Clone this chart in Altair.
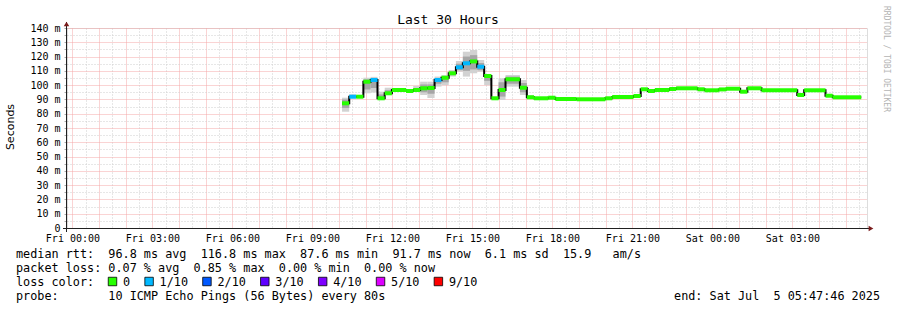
import altair as alt
import pandas as pd

# ---------------- data ----------------
# segment boundaries, hours since Fri 00:00
edges = [10.11, 10.38, 10.64, 10.91, 11.18, 11.44, 11.71, 11.98, 12.51, 12.78,
         13.04, 13.31, 13.58, 13.84, 14.11, 14.38, 14.64, 14.91, 15.18, 15.44,
         15.71, 15.98, 16.24, 16.78, 17.04, 17.31, 17.84, 18.11, 18.91, 19.98,
         20.24, 21.04, 21.31, 21.58, 21.84, 22.38, 22.64, 23.44, 23.71, 24.24,
         24.51, 25.04, 25.31, 25.84, 27.18, 27.44, 28.24, 28.51, 29.58]
# median rtt (ms) per segment
median = [87.3, 91.9, 91.9, 102.4, 103.6, 90.8, 94.3, 96.6, 95.9, 96.6,
          97.8, 98.0, 103.6, 105.2, 108.3, 112.5, 115.3, 116.6, 112.9, 106.4,
          90.8, 96.6, 104.1, 98.2, 91.5, 90.8, 91.2, 90.3, 90.1, 90.8,
          91.7, 92.4, 97.1, 95.9, 96.6, 97.3, 97.8, 97.1, 96.4, 97.0,
          97.5, 95.4, 97.8, 96.4, 93.1, 96.4, 92.6, 91.5]
# packet loss class per segment
loss = ["0", "1/10", "0", "0", "1/10", "0", "0", "0", "0", "0",
        "0", "0", "1/10", "0", "0", "1/10", "1/10", "0", "1/10", "0",
        "0", "0", "0", "0", "0", "0", "0", "0", "0", "0",
        "0", "0", "0", "0", "0", "0", "0", "0", "0", "0",
        "0", "0", "0", "0", "0", "0", "0", "0"]
# smoke (spread of the pings) for the first 25 segments
smoke_out_lo = [81.4, 90.8, 91.0, 94.3, 94.8, 89.6, 93.1, 96.0, 95.2, 95.2,
                93.1, 91.0, 99.0, 100.0, 106.0, 109.4, 106.0, 108.3, 109.4, 100.0,
                90.3, 89.6, 99.0, 93.1, 90.5]
smoke_out_hi = [91.2, 93.6, 93.0, 105.2, 105.8, 95.4, 98.2, 97.2, 96.8, 99.4,
                102.4, 102.4, 106.0, 107.0, 110.6, 116.9, 123.4, 124.6, 117.6, 107.5,
                91.5, 104.8, 107.1, 103.6, 93.0]
smoke_in_lo = [84.0, 91.0, 91.5, 97.0, 98.0, 90.0, 93.5, 96.2, 95.4, 95.8,
               95.0, 94.0, 101.0, 102.0, 107.0, 110.5, 110.0, 111.0, 110.5, 103.0,
               90.5, 92.0, 101.0, 95.0, 91.0]
smoke_in_hi = [90.0, 93.0, 92.5, 104.0, 105.0, 93.5, 96.5, 97.0, 96.6, 98.0,
               100.5, 100.5, 105.0, 106.0, 109.5, 115.0, 120.0, 121.0, 115.5, 107.0,
               91.2, 102.0, 106.0, 101.5, 92.5]

loss_labels = ["0", "1/10", "2/10", "3/10", "4/10", "5/10", "9/10"]
loss_colors = ["#26ff00", "#00b8ff", "#0059ff", "#5e00ff", "#7e00ff", "#dd00ff", "#ff0000"]

x_labels = ["Fri 00:00", "Fri 03:00", "Fri 06:00", "Fri 09:00", "Fri 12:00",
            "Fri 15:00", "Fri 18:00", "Fri 21:00", "Sat 00:00", "Sat 03:00"]
x_start, x_end = -0.2039, 29.7961

title_text = "Last 30 Hours"
y_title = "Seconds"
legend_rows = [
    "median rtt:  96.8 ms avg  116.8 ms max  87.6 ms min  91.7 ms now  6.1 ms sd  15.9   am/s",
    "packet loss: 0.07 % avg  0.85 % max  0.00 % min  0.00 % now",
    "loss color:",
    "probe:       10 ICMP Echo Pings (56 Bytes) every 80s",
]
end_text = "end: Sat Jul  5 05:47:46 2025"
watermark = "RRDTOOL / TOBI OETIKER"

NB = "\u00a0"


def keep_spaces(s):
    return s.replace(" ", NB)


# ---------------- tables ----------------
seg = pd.DataFrame({"start": edges[:-1], "end": edges[1:], "median": median, "loss": loss})
ns = len(smoke_out_lo)
smoke = pd.DataFrame({"start": edges[:ns], "end": edges[1:ns + 1],
                      "olo": smoke_out_lo, "ohi": smoke_out_hi,
                      "ilo": smoke_in_lo, "ihi": smoke_in_hi})
step = pd.DataFrame({"t": edges, "v": median + [median[-1]]})

MONO = "DejaVu Sans Mono"
MAJOR = "#f5a8a8"
MINOR = "#cfcfcf"
LEG_FS = 11.8

lab_arr = "[" + ",".join("'" + s + "'" for s in x_labels) + "]"
x_axis = alt.Axis(
    values=[i * 0.5 for i in range(60)],
    labelExpr=f"datum.value % 3 == 0 ? {lab_arr}[datum.value / 3] : ''",
    grid=True,
    gridColor={"condition": {"test": "datum.value % 1 == 0", "value": MAJOR}, "value": MINOR},
    gridDash={"condition": {"test": "datum.value % 1 == 0", "value": [1, 1]}, "value": [1, 2]},
    gridWidth=1,
    ticks=False, domain=False, labelFont=MONO, labelFontSize=10, labelColor="black",
    labelPadding=5, labelOverlap=False, labelFlush=False, title=None,
)
y_axis = alt.Axis(
    values=list(range(0, 145, 5)),
    labelExpr="datum.value % 10 != 0 ? '' : (datum.value == 0 ? '0' : datum.value + ' m')",
    grid=True,
    gridColor={"condition": {"test": "datum.value % 10 == 0", "value": MAJOR}, "value": MINOR},
    gridDash={"condition": {"test": "datum.value % 10 == 0", "value": [1, 1]}, "value": [1, 2]},
    gridWidth=1,
    ticks=True, tickSize=3, tickColor="#aaaaaa", domain=False,
    labelFont=MONO, labelFontSize=10, labelColor="black", labelPadding=4,
    labelOverlap=False, labelFlush=False, title=None,
)
xs = alt.Scale(domain=[x_start, x_end], nice=False, zero=False)
ys = alt.Scale(domain=[0, 140], nice=False, zero=False)

outer = alt.Chart(smoke).mark_rect(color="#d2d2d2").encode(
    x=alt.X("start:Q", scale=xs, axis=x_axis), x2="end:Q",
    y=alt.Y("olo:Q", scale=ys, axis=y_axis), y2="ohi:Q")
inner = alt.Chart(smoke).mark_rect(color="#a6a6a6").encode(
    x=alt.X("start:Q", scale=xs, axis=x_axis), x2="end:Q",
    y=alt.Y("ilo:Q", scale=ys, axis=y_axis), y2="ihi:Q")
black = alt.Chart(step).mark_line(interpolate="step-after", color="black", strokeWidth=2).encode(
    x=alt.X("t:Q", scale=xs, axis=x_axis), y=alt.Y("v:Q", scale=ys, axis=y_axis))
colored = alt.Chart(seg).mark_rule(strokeWidth=4).encode(
    x=alt.X("start:Q", scale=xs, axis=x_axis), x2="end:Q",
    y=alt.Y("median:Q", scale=ys, axis=y_axis),
    color=alt.Color("loss:N", scale=alt.Scale(domain=loss_labels, range=loss_colors), legend=None))

one = pd.DataFrame({"a": [0]})
yline = alt.Chart(one).mark_rule(color="#202020", strokeWidth=1).encode(
    x=alt.value(-0.5), y=alt.value(-6), y2=alt.value(204))
xline = alt.Chart(one).mark_rule(color="#202020", strokeWidth=1).encode(
    x=alt.value(-4), x2=alt.value(803), y=alt.value(200.5))
arrow_up = alt.Chart(one).mark_point(shape="triangle-up", filled=True, color="#7a1c1c",
                                     size=30, opacity=1).encode(
    x=alt.value(-0.5), y=alt.value(-4))
arrow_right = alt.Chart(one).mark_point(shape="triangle-right", filled=True, color="#7a1c1c",
                                        size=30, opacity=1).encode(
    x=alt.value(804), y=alt.value(200.5))

texts = []
texts.append(alt.Chart(pd.DataFrame({"t": [title_text]})).mark_text(
    font=MONO, fontSize=13, align="center", baseline="alphabetic", color="black").encode(
    text="t:N", x=alt.value(381), y=alt.value(-4)))
texts.append(alt.Chart(pd.DataFrame({"t": [y_title]})).mark_text(
    font="DejaVu Sans", fontSize=11, align="center", baseline="middle", angle=270,
    color="black").encode(text="t:N", x=alt.value(-56), y=alt.value(99)))
for i, row in enumerate(legend_rows):
    texts.append(alt.Chart(pd.DataFrame({"t": [keep_spaces(row)]})).mark_text(
        font=MONO, fontSize=LEG_FS, align="left", baseline="alphabetic", color="black").encode(
        text="t:N", x=alt.value(-51), y=alt.value(230 + 14 * i)))
texts.append(alt.Chart(pd.DataFrame({"t": [keep_spaces(end_text)]})).mark_text(
    font=MONO, fontSize=LEG_FS, align="right", baseline="alphabetic", color="black").encode(
    text="t:N", x=alt.value(813), y=alt.value(272)))
texts.append(alt.Chart(pd.DataFrame({"t": [watermark]})).mark_text(
    font=MONO, fontSize=8, align="center", baseline="middle", angle=90, color="#b4b4b4").encode(
    text="t:N", x=alt.value(819), y=alt.value(31)))

# loss colour legend boxes
char_w = 7.09
bx = 41.0
for lab, col in zip(loss_labels, loss_colors):
    texts.append(alt.Chart(pd.DataFrame({"t": [lab]})).mark_square(
        size=72, fill=col, stroke="black", strokeWidth=0.8, opacity=1).encode(
        x=alt.value(bx + 4.5), y=alt.value(253.5)))
    lx = bx + 15
    texts.append(alt.Chart(pd.DataFrame({"t": [lab]})).mark_text(
        font=MONO, fontSize=LEG_FS, align="left", baseline="alphabetic", color="black").encode(
        text="t:N", x=alt.value(lx), y=alt.value(258)))
    bx = lx + len(lab) * char_w + 14.5

chart = alt.layer(outer, inner, black, colored, yline, xline, arrow_up, arrow_right, *texts).properties(
    width=800, height=200,
    padding={"left": 67, "top": 28, "right": 30, "bottom": 82},
    autosize=alt.AutoSizeParams(type="none"),
).configure_view(stroke=None).configure(background="white")

chart.save("out.html", embed_options={"renderer": "svg", "actions": False})
